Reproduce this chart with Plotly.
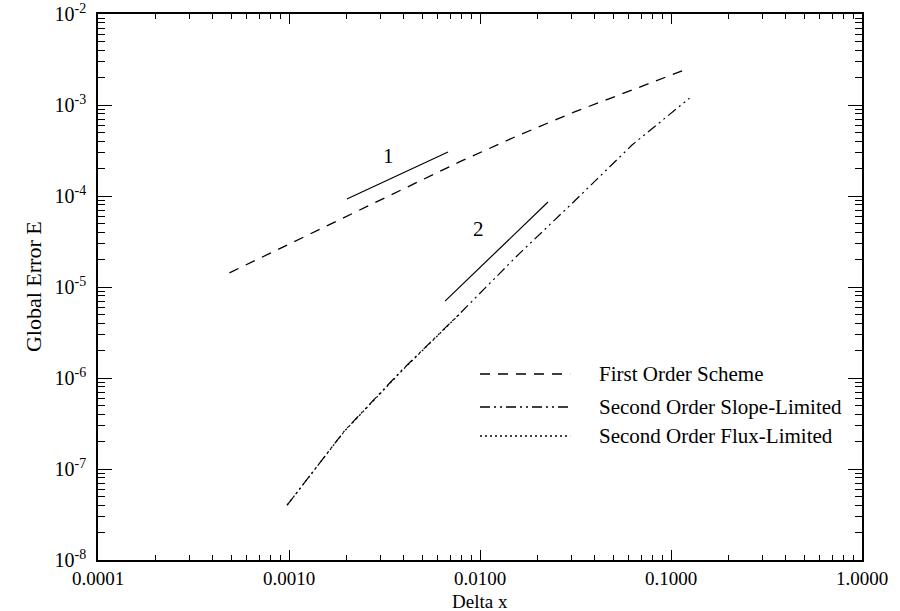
import numpy as np
import plotly.graph_objects as go

# ---- data ----
dx = [0.000977, 0.00195, 0.0039, 0.0078, 0.0156, 0.03125, 0.0625, 0.125]
dx_first = [0.000488] + dx
err_first = [1.43e-5, 2.90e-5, 5.81e-5, 1.17e-4, 2.37e-4, 4.56e-4, 8.4e-4, 1.46e-3, 2.55e-3]
err_slope = [4.0e-8, 2.62e-7, 1.22e-6, 5.05e-6, 2.19e-5, 8.8e-5, 3.63e-4, 1.19e-3]
dx_flux = [0.000977, 0.00195, 0.0039, 0.0078]
err_flux = [4.0e-8, 2.60e-7, 1.20e-6, 5.0e-6]

ref1_x = [0.00201, 0.0068]
ref1_y = [9.27e-5, 3.05e-4]
ref2_x = [0.00656, 0.0227]
ref2_y = [7.0e-6, 8.6e-5]

x_tickvals = [1e-4, 1e-3, 1e-2, 1e-1, 1]
x_ticktext = ["0.0001", "0.0010", "0.0100", "0.1000", "1.0000"]
y_tickvals = [1e-8, 1e-7, 1e-6, 1e-5, 1e-4, 1e-3, 1e-2]
y_ticktext = ["10<sup>-8</sup>", "10<sup>-7</sup>", "10<sup>-6</sup>", "10<sup>-5</sup>",
              "10<sup>-4</sup>", "10<sup>-3</sup>", "10<sup>-2</sup>"]

legend_names = ["First Order Scheme", "Second Order Slope-Limited", "Second Order Flux-Limited"]

FONT = "Liberation Serif, Times New Roman, serif"
DASH_FIRST = "10px,8px"
DASH_SLOPE = "10px,4px,2px,4px,2px,4px"
DASH_FLUX = "2px,3px"

fig = go.Figure()
fig.add_trace(go.Scatter(x=dx_first, y=err_first, mode="lines",
                         line=dict(color="black", width=1.3, dash=DASH_FIRST),
                         name=legend_names[0]))
fig.add_trace(go.Scatter(x=dx, y=err_slope, mode="lines",
                         line=dict(color="black", width=1.2, dash=DASH_SLOPE),
                         name=legend_names[1]))
fig.add_trace(go.Scatter(x=dx_flux, y=err_flux, mode="lines",
                         line=dict(color="black", width=1.2, dash=DASH_FLUX),
                         name=legend_names[2]))
fig.add_trace(go.Scatter(x=ref1_x, y=ref1_y, mode="lines",
                         line=dict(color="black", width=1.2), name="slope 1"))
fig.add_trace(go.Scatter(x=ref2_x, y=ref2_y, mode="lines",
                         line=dict(color="black", width=1.2), name="slope 2"))

minor_x = [m * 10.0 ** k for k in range(-4, 0) for m in range(2, 10)]
minor_y = [m * 10.0 ** k for k in range(-8, -2) for m in range(2, 10)]

fig.update_xaxes(type="log", range=[-4, 0], tickvals=x_tickvals, ticktext=x_ticktext,
                 ticks="inside", ticklen=10, tickwidth=1.2, tickcolor="black",
                 showline=True, linecolor="black", linewidth=1.5, mirror="ticks",
                 showgrid=False, zeroline=False, automargin=False,
                 minor=dict(tickvals=minor_x, ticks="inside", ticklen=5, tickcolor="black", showgrid=False),
                 tickfont=dict(family=FONT, size=19, color="black"))
fig.update_yaxes(type="log", range=[-8, -2], tickvals=y_tickvals, ticktext=y_ticktext,
                 ticks="inside", ticklen=14, tickwidth=1.2, tickcolor="black",
                 showline=True, linecolor="black", linewidth=1.5, mirror="ticks",
                 showgrid=False, zeroline=False, ticklabelstandoff=6, automargin=False,
                 minor=dict(tickvals=minor_y, ticks="inside", ticklen=7, tickcolor="black", showgrid=False),
                 tickfont=dict(family=FONT, size=20, color="black"))

# slope labels
annotations = [
    dict(x=np.log10(0.0033), y=np.log10(2.75e-4), xref="x", yref="y", text="1",
         showarrow=False, font=dict(family=FONT, size=21, color="black")),
    dict(x=np.log10(0.0098), y=np.log10(4.3e-5), xref="x", yref="y", text="2",
         showarrow=False, font=dict(family=FONT, size=21, color="black")),
    dict(x=-0.085, y=0.5, xref="paper", yref="paper", text="Global Error E", textangle=-90,
         xanchor="center", yanchor="middle",
         showarrow=False, font=dict(family=FONT, size=22, color="black")),
    dict(x=0.5, y=-0.076, xref="paper", yref="paper", text="Delta x",
         xanchor="center", yanchor="middle",
         showarrow=False, font=dict(family=FONT, size=19, color="black")),
]

# manual legend
leg_y = [0.3407, 0.2802, 0.2271]
dashes = [DASH_FIRST, DASH_SLOPE, DASH_FLUX]
shapes = []
for name, yy, d in zip(legend_names, leg_y, dashes):
    shapes.append(dict(type="line", xref="paper", yref="paper", x0=0.5, x1=0.618, y0=yy, y1=yy,
                       line=dict(color="black", width=1.3, dash=d)))
    annotations.append(dict(x=0.653, y=yy, xref="paper", yref="paper", text=name,
                            xanchor="left", yanchor="middle", showarrow=False,
                            font=dict(family=FONT, size=21, color="black")))

fig.update_layout(width=900, height=611, margin=dict(l=98, r=38, t=14, b=51),
                  plot_bgcolor="white", paper_bgcolor="white", showlegend=False,
                  annotations=annotations, shapes=shapes,
                  font=dict(family=FONT, color="black"))

fig.write_html("out.html", config={"displayModeBar": False},
               post_script="document.body.style.margin='0px';document.body.style.overflow='hidden';")
